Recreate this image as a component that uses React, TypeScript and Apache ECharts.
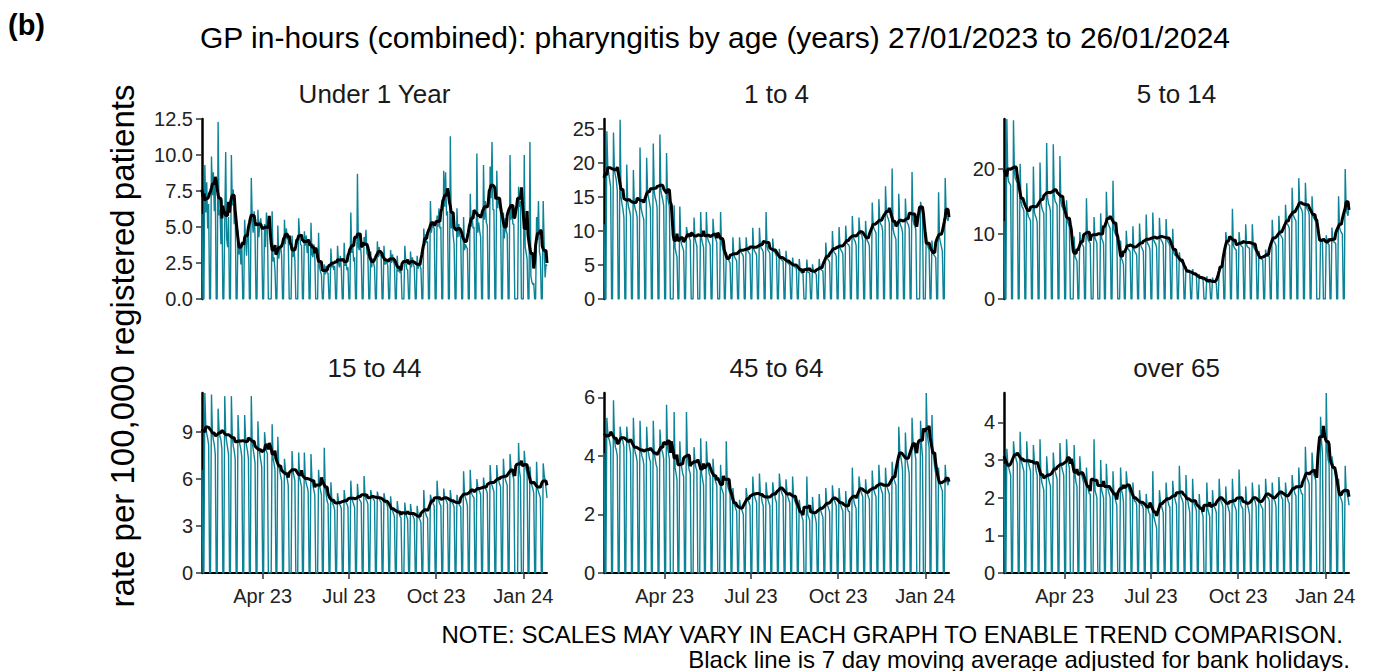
import React, { useEffect, useRef } from 'react';
import * as echarts from 'echarts';

// ---------- data ----------
const START_DATE = '2023-01-27';
const N_DAYS = 365;
const bankHolidays = ['2023-04-07', '2023-04-10', '2023-05-01', '2023-05-08', '2023-05-29', '2023-08-28', '2023-12-25', '2023-12-26', '2024-01-01'];
const quarterTickDates = ['2023-04-01', '2023-07-01', '2023-10-01', '2024-01-01'];
const monthAbbr = ['Jan', 'Feb', 'Mar', 'Apr', 'May', 'Jun', 'Jul', 'Aug', 'Sep', 'Oct', 'Nov', 'Dec'];

const panelTitles = ['Under 1 Year', '1 to 4', '5 to 14', '15 to 44', '45 to 64', 'over 65'];

// daily rates: first row Fri-Sun, then Mon..Sun per week, last row Mon..Fri
const under1 = [5.9, 0, 0,
  9.3, 6.0, 8.1, 4.9, 6.6, 0, 0,
  9.9, 7.2, 8.8, 6.1, 8.0, 0, 0,
  12.3, 5.8, 6.2, 3.8, 6.9, 0, 0,
  5.3, 10.2, 4.2, 3.6, 5.7, 0, 0,
  10.0, 6.5, 7.6, 5.2, 6.7, 0, 0,
  4.8, 3.1, 3.9, 2.4, 3.8, 0, 0,
  5.5, 4.1, 3.0, 4.9, 4.5, 0, 0,
  8.4, 5.6, 4.6, 6.1, 4.3, 0, 0,
  6.2, 4.3, 5.3, 5.6, 4.6, 0, 0,
  5.2, 3.6, 6.0, 5.2, 0, 0, 0,
  0, 6.1, 2.6, 2.9, 2.0, 0, 0,
  5.1, 2.8, 3.4, 3.7, 3.0, 0, 0,
  5.5, 3.8, 4.9, 4.2, 4.1, 0, 0,
  0, 4.4, 2.9, 3.6, 2.7, 0, 0,
  0, 5.6, 4.5, 3.8, 3.7, 0, 0,
  4.7, 3.7, 4.4, 3.2, 4.0, 0, 0,
  5.3, 3.1, 2.9, 3.8, 2.9, 0, 0,
  0, 4.6, 2.2, 1.9, 1.7, 0, 0,
  2.4, 1.7, 2.3, 1.8, 1.8, 0, 0,
  3.5, 2.2, 2.5, 2.0, 2.3, 0, 0,
  3.7, 2.5, 2.2, 3.0, 2.1, 0, 0,
  3.9, 2.3, 2.6, 2.0, 2.2, 0, 0,
  6.0, 3.2, 3.8, 2.6, 2.9, 0, 0,
  8.7, 3.6, 3.4, 3.9, 3.0, 0, 0,
  4.3, 3.7, 4.8, 3.2, 3.0, 0, 0,
  3.3, 2.2, 2.8, 2.5, 2.2, 0, 0,
  4.0, 2.9, 3.6, 3.0, 3.0, 0, 0,
  3.7, 2.4, 2.5, 2.6, 2.3, 0, 0,
  3.4, 2.5, 3.1, 2.6, 2.4, 0, 0,
  3.0, 1.9, 2.2, 1.8, 2.1, 0, 0,
  0, 3.7, 2.6, 2.1, 2.0, 0, 0,
  3.3, 2.2, 2.9, 2.4, 2.2, 0, 0,
  3.0, 2.1, 2.5, 2.3, 2.1, 0, 0,
  4.9, 3.7, 4.5, 3.9, 4.0, 0, 0,
  6.8, 4.6, 5.2, 5.0, 4.9, 0, 0,
  5.8, 5.0, 6.3, 4.9, 5.0, 0, 0,
  8.9, 6.4, 8.8, 5.8, 6.1, 0, 0,
  11.3, 4.9, 5.6, 4.4, 3.8, 0, 0,
  6.3, 4.3, 5.2, 4.4, 4.3, 0, 0,
  5.7, 3.4, 3.8, 3.6, 3.5, 0, 0,
  7.3, 5.0, 5.8, 4.9, 5.0, 0, 0,
  10.1, 4.6, 5.3, 4.7, 4.3, 0, 0,
  9.3, 5.5, 6.8, 5.3, 5.1, 0, 0,
  9.2, 7.0, 10.9, 6.2, 6.2, 0, 0,
  8.9, 6.3, 7.1, 6.6, 6.1, 0, 0,
  6.0, 4.2, 5.6, 4.7, 4.5, 0, 0,
  10.0, 5.5, 6.6, 5.2, 5.2, 0, 0,
  0, 0, 7.8, 6.4, 6.8, 0, 0,
  0, 10.0, 3.6, 3.2, 2.8, 0, 0,
  10.9, 1.6, 1.2, 1.0, 1.1, 0, 0,
  5.7, 4.1, 6.8, 3.3, 2.9, 0, 0,
  6.8, 3.8, 1.5, 2.4, 2.3];

const age1to4 = [11.0, 0, 0,
  24.7, 19.5, 18.5, 17.5, 16.5, 0, 0,
  24.5, 19.0, 18.2, 17.5, 16.0, 0, 0,
  26.4, 15.0, 14.0, 13.2, 12.0, 0, 0,
  19.8, 14.5, 13.5, 13.0, 12.2, 0, 0,
  19.0, 14.0, 13.2, 12.8, 12.0, 0, 0,
  22.3, 13.5, 12.8, 12.2, 11.7, 0, 0,
  20.8, 15.8, 14.9, 14.2, 13.3, 0, 0,
  22.9, 15.8, 14.9, 14.4, 13.5, 0, 0,
  24.2, 16.0, 15.2, 14.6, 13.7, 0, 0,
  21.5, 15.0, 14.2, 13.6, 0, 0, 0,
  0, 13.8, 7.6, 6.8, 6.2, 0, 0,
  13.6, 8.7, 8.0, 7.6, 7.1, 0, 0,
  10.6, 9.8, 9.3, 9.0, 8.6, 0, 0,
  0, 12.0, 9.0, 8.3, 7.8, 0, 0,
  0, 12.8, 8.8, 8.2, 7.6, 0, 0,
  12.8, 9.3, 8.6, 8.3, 7.9, 0, 0,
  11.8, 9.6, 9.1, 8.8, 8.3, 0, 0,
  0, 12.8, 8.2, 7.6, 7.0, 0, 0,
  6.9, 6.2, 5.9, 5.6, 5.3, 0, 0,
  9.1, 6.6, 6.1, 5.9, 5.6, 0, 0,
  9.1, 7.1, 6.8, 6.6, 6.3, 0, 0,
  9.1, 7.4, 7.0, 6.8, 6.6, 0, 0,
  10.5, 7.4, 7.0, 6.8, 6.4, 0, 0,
  10.5, 7.9, 7.4, 7.3, 6.9, 0, 0,
  12.8, 7.8, 7.2, 7.0, 6.7, 0, 0,
  8.9, 7.2, 6.9, 6.7, 6.3, 0, 0,
  7.4, 6.1, 5.8, 5.7, 5.5, 0, 0,
  7.1, 5.5, 5.3, 5.2, 4.9, 0, 0,
  6.1, 5.0, 4.8, 4.6, 4.5, 0, 0,
  5.9, 4.2, 3.9, 3.8, 3.7, 0, 0,
  0, 5.8, 4.0, 3.9, 3.8, 0, 0,
  5.1, 4.1, 3.9, 3.8, 3.6, 0, 0,
  5.9, 4.5, 4.3, 4.2, 4.1, 0, 0,
  8.3, 6.2, 5.9, 5.7, 5.4, 0, 0,
  10.0, 7.2, 6.8, 6.7, 6.3, 0, 0,
  10.6, 7.6, 7.2, 7.0, 6.6, 0, 0,
  10.8, 8.4, 8.1, 8.0, 7.7, 0, 0,
  12.2, 9.2, 8.7, 8.5, 7.9, 0, 0,
  12.0, 9.9, 9.6, 9.4, 8.6, 0, 0,
  11.5, 8.9, 8.5, 8.3, 7.8, 0, 0,
  14.2, 10.8, 10.3, 10.0, 9.7, 0, 0,
  14.7, 11.5, 11.0, 10.8, 10.0, 0, 0,
  16.6, 12.8, 12.1, 11.8, 11.2, 0, 0,
  19.2, 10.4, 9.6, 9.2, 8.8, 0, 0,
  15.5, 11.4, 10.8, 10.5, 9.8, 0, 0,
  14.8, 11.6, 11.2, 11.0, 10.4, 0, 0,
  18.7, 11.8, 11.0, 10.8, 10.2, 0, 0,
  0, 0, 14.3, 13.5, 12.8, 0, 0,
  0, 9.8, 8.2, 7.6, 7.2, 0, 0,
  8.6, 6.8, 6.5, 6.3, 6.1, 0, 0,
  15.7, 9.0, 8.3, 7.7, 7.0, 0, 0,
  17.8, 12.5, 11.8, 11.5, 12.4];

const age5to14 = [12.0, 0, 0,
  27.7, 19.0, 18.0, 17.8, 17.5, 0, 0,
  27.5, 19.5, 18.5, 18.2, 17.8, 0, 0,
  20.8, 15.0, 14.2, 14.0, 13.5, 0, 0,
  17.8, 13.2, 12.6, 12.4, 12.0, 0, 0,
  20.4, 13.5, 12.8, 12.5, 11.8, 0, 0,
  21.0, 14.8, 14.0, 13.5, 13.2, 0, 0,
  24.0, 15.6, 14.6, 14.3, 13.5, 0, 0,
  23.8, 16.0, 15.0, 14.8, 14.4, 0, 0,
  22.0, 15.2, 14.3, 14.0, 13.5, 0, 0,
  15.2, 12.0, 11.5, 11.0, 0, 0, 0,
  0, 9.6, 6.5, 6.2, 5.8, 0, 0,
  10.3, 8.8, 8.6, 8.3, 8.0, 0, 0,
  15.5, 9.6, 9.0, 8.8, 8.5, 0, 0,
  0, 12.6, 9.4, 9.0, 8.6, 0, 0,
  0, 13.2, 9.3, 9.0, 8.5, 0, 0,
  16.5, 12.0, 11.5, 11.2, 10.8, 0, 0,
  18.2, 10.8, 10.2, 9.8, 9.5, 0, 0,
  0, 9.0, 6.2, 5.9, 5.3, 0, 0,
  10.5, 8.0, 7.7, 7.5, 7.3, 0, 0,
  11.2, 7.7, 7.3, 7.1, 6.7, 0, 0,
  11.6, 8.4, 8.0, 7.7, 7.3, 0, 0,
  13.0, 8.8, 8.4, 8.2, 7.6, 0, 0,
  13.3, 9.1, 8.7, 8.5, 7.9, 0, 0,
  12.5, 9.4, 9.0, 8.8, 8.3, 0, 0,
  12.3, 9.2, 8.8, 8.6, 8.1, 0, 0,
  10.8, 7.2, 6.8, 6.7, 6.5, 0, 0,
  7.2, 5.9, 5.7, 5.7, 5.5, 0, 0,
  5.0, 4.2, 4.1, 4.1, 4.1, 0, 0,
  4.6, 3.9, 3.8, 3.6, 3.6, 0, 0,
  3.8, 3.3, 3.2, 3.1, 3.1, 0, 0,
  0, 3.5, 2.7, 2.6, 2.5, 0, 0,
  3.3, 2.7, 2.6, 2.5, 2.4, 0, 0,
  4.3, 4.6, 4.9, 5.3, 5.6, 0, 0,
  10.3, 9.0, 8.6, 8.4, 8.2, 0, 0,
  13.9, 8.3, 7.9, 7.7, 7.5, 0, 0,
  10.3, 8.6, 8.2, 8.1, 7.9, 0, 0,
  11.5, 8.3, 8.0, 7.9, 7.8, 0, 0,
  11.5, 8.1, 7.8, 7.6, 7.3, 0, 0,
  7.4, 6.3, 6.2, 6.1, 6.0, 0, 0,
  7.6, 6.7, 6.6, 6.6, 6.5, 0, 0,
  12.2, 9.2, 8.8, 8.6, 8.2, 0, 0,
  12.8, 10.1, 9.8, 9.6, 9.2, 0, 0,
  14.5, 11.8, 11.5, 11.3, 10.9, 0, 0,
  17.1, 13.0, 12.6, 12.3, 12.0, 0, 0,
  18.6, 14.4, 14.0, 13.8, 13.2, 0, 0,
  17.9, 14.2, 13.8, 13.6, 13.0, 0, 0,
  15.8, 12.8, 12.4, 12.2, 11.8, 0, 0,
  0, 0, 9.3, 9.0, 8.8, 0, 0,
  0, 9.8, 8.6, 8.5, 8.3, 0, 0,
  11.0, 9.0, 8.8, 8.7, 8.5, 0, 0,
  15.8, 11.0, 10.5, 10.2, 10.0, 0, 0,
  20.0, 14.0, 13.2, 12.8, 14.8];

const age15to44 = [6.6, 0, 0,
  11.5, 9.4, 8.9, 8.6, 8.2, 0, 0,
  11.4, 9.0, 8.5, 8.2, 7.6, 0, 0,
  10.5, 9.2, 8.7, 8.5, 7.9, 0, 0,
  11.3, 8.9, 8.4, 8.0, 7.6, 0, 0,
  11.3, 8.7, 8.1, 7.8, 7.3, 0, 0,
  10.1, 8.6, 8.2, 7.9, 7.4, 0, 0,
  10.1, 8.7, 8.1, 7.8, 7.3, 0, 0,
  11.3, 8.4, 7.9, 7.5, 7.0, 0, 0,
  9.7, 8.1, 7.6, 7.2, 6.8, 0, 0,
  9.0, 8.3, 7.8, 7.6, 0, 0, 0,
  0, 9.5, 7.3, 7.0, 6.6, 0, 0,
  8.7, 6.9, 6.5, 6.2, 5.9, 0, 0,
  7.3, 6.6, 6.2, 6.0, 5.6, 0, 0,
  0, 7.8, 6.5, 6.2, 5.9, 0, 0,
  0, 7.7, 6.1, 5.8, 5.5, 0, 0,
  7.7, 6.1, 5.7, 5.5, 5.2, 0, 0,
  7.6, 6.0, 5.6, 5.3, 5.0, 0, 0,
  0, 6.6, 5.6, 5.3, 5.0, 0, 0,
  8.0, 5.5, 5.0, 4.6, 4.4, 0, 0,
  5.8, 4.7, 4.4, 4.3, 4.0, 0, 0,
  5.1, 4.6, 4.4, 4.3, 4.1, 0, 0,
  5.3, 4.7, 4.5, 4.4, 4.2, 0, 0,
  5.9, 4.8, 4.6, 4.4, 4.2, 0, 0,
  5.7, 4.9, 4.7, 4.6, 4.5, 0, 0,
  6.2, 5.0, 4.7, 4.6, 4.4, 0, 0,
  5.3, 5.0, 4.8, 4.7, 4.6, 0, 0,
  5.2, 4.9, 4.8, 4.6, 4.5, 0, 0,
  5.1, 4.7, 4.5, 4.4, 4.2, 0, 0,
  4.9, 4.2, 4.0, 3.8, 3.6, 0, 0,
  4.6, 4.0, 3.8, 3.6, 3.5, 0, 0,
  0, 4.5, 3.8, 3.6, 3.4, 0, 0,
  4.4, 3.9, 3.7, 3.6, 3.4, 0, 0,
  4.3, 3.7, 3.5, 3.4, 3.2, 0, 0,
  5.3, 4.0, 3.8, 3.6, 3.5, 0, 0,
  5.0, 4.7, 4.6, 4.4, 4.3, 0, 0,
  5.9, 4.8, 4.6, 4.4, 4.3, 0, 0,
  5.4, 4.9, 4.7, 4.6, 4.4, 0, 0,
  5.3, 4.7, 4.5, 4.4, 4.2, 0, 0,
  5.0, 4.6, 4.4, 4.3, 4.2, 0, 0,
  6.5, 5.0, 4.8, 4.6, 4.3, 0, 0,
  6.6, 5.2, 5.0, 4.9, 4.8, 0, 0,
  6.0, 5.5, 5.3, 5.2, 5.0, 0, 0,
  6.1, 5.6, 5.4, 5.3, 5.1, 0, 0,
  6.9, 5.8, 5.6, 5.4, 5.2, 0, 0,
  6.9, 6.1, 5.9, 5.7, 5.5, 0, 0,
  7.3, 6.2, 6.0, 5.8, 5.6, 0, 0,
  7.6, 6.7, 6.4, 6.2, 6.0, 0, 0,
  0, 0, 8.3, 6.5, 6.1, 0, 0,
  0, 7.8, 7.0, 6.6, 6.3, 0, 0,
  6.8, 5.9, 5.6, 5.4, 5.1, 0, 0,
  7.1, 5.4, 5.2, 5.0, 4.8, 0, 0,
  7.0, 6.3, 5.9, 5.4, 4.8];

const age45to64 = [4.1, 0, 0,
  5.3, 4.8, 4.6, 4.5, 4.3, 0, 0,
  5.9, 4.6, 4.3, 4.2, 4.0, 0, 0,
  5.0, 4.7, 4.6, 4.5, 4.3, 0, 0,
  5.0, 4.6, 4.5, 4.3, 4.1, 0, 0,
  5.3, 4.3, 4.1, 4.0, 3.8, 0, 0,
  5.2, 4.2, 4.0, 3.9, 3.7, 0, 0,
  5.0, 4.3, 4.1, 3.9, 3.8, 0, 0,
  5.2, 4.1, 3.9, 3.7, 3.6, 0, 0,
  4.9, 4.4, 4.2, 4.1, 3.9, 0, 0,
  5.75, 4.3, 4.1, 3.9, 0, 0, 0,
  0, 5.5, 3.6, 3.4, 3.2, 0, 0,
  4.5, 3.8, 3.6, 3.4, 3.3, 0, 0,
  5.5, 4.0, 3.7, 3.5, 3.4, 0, 0,
  0, 4.3, 3.8, 3.6, 3.5, 0, 0,
  0, 4.6, 3.4, 3.2, 3.0, 0, 0,
  4.5, 3.8, 3.6, 3.4, 3.3, 0, 0,
  3.9, 3.4, 3.2, 3.1, 3.0, 0, 0,
  0, 3.7, 2.9, 2.8, 2.7, 0, 0,
  4.5, 3.1, 2.9, 2.8, 2.7, 0, 0,
  2.9, 2.5, 2.3, 2.2, 2.1, 0, 0,
  2.5, 2.3, 2.2, 2.1, 2.0, 0, 0,
  2.9, 2.6, 2.5, 2.4, 2.3, 0, 0,
  3.3, 2.7, 2.6, 2.5, 2.4, 0, 0,
  3.4, 2.7, 2.6, 2.4, 2.3, 0, 0,
  3.1, 2.7, 2.5, 2.4, 2.3, 0, 0,
  3.1, 2.8, 2.7, 2.5, 2.4, 0, 0,
  3.4, 3.0, 2.8, 2.7, 2.6, 0, 0,
  3.2, 2.8, 2.6, 2.5, 2.4, 0, 0,
  3.3, 2.6, 2.5, 2.4, 2.3, 0, 0,
  2.5, 2.2, 2.0, 1.9, 1.8, 0, 0,
  0, 3.3, 2.0, 1.9, 1.8, 0, 0,
  2.6, 2.1, 2.0, 1.9, 1.7, 0, 0,
  2.7, 2.3, 2.1, 2.0, 1.9, 0, 0,
  2.9, 2.4, 2.3, 2.2, 2.1, 0, 0,
  3.0, 2.6, 2.5, 2.4, 2.3, 0, 0,
  2.9, 2.5, 2.3, 2.2, 2.1, 0, 0,
  2.8, 2.3, 2.2, 2.1, 2.1, 0, 0,
  3.6, 2.6, 2.4, 2.3, 2.2, 0, 0,
  3.3, 3.0, 2.8, 2.7, 2.6, 0, 0,
  3.2, 2.8, 2.7, 2.6, 2.5, 0, 0,
  3.5, 2.9, 2.8, 2.7, 2.6, 0, 0,
  3.7, 3.1, 2.9, 2.8, 2.7, 0, 0,
  3.6, 3.0, 2.9, 2.8, 2.7, 0, 0,
  3.8, 3.3, 3.2, 3.1, 3.0, 0, 0,
  5.0, 4.2, 4.0, 3.8, 3.5, 0, 0,
  4.8, 4.0, 3.8, 3.6, 3.4, 0, 0,
  5.3, 4.5, 4.3, 4.1, 3.9, 0, 0,
  0, 0, 5.2, 4.4, 4.0, 0, 0,
  0, 6.15, 4.8, 4.5, 4.3, 0, 0,
  5.4, 4.2, 3.9, 3.6, 3.4, 0, 0,
  3.6, 3.1, 3.0, 2.9, 2.8, 0, 0,
  3.7, 3.2, 3.1, 3.0, 3.2];

const over65 = [2.9, 0, 0,
  3.3, 2.9, 2.8, 2.7, 2.6, 0, 0,
  3.5, 3.2, 3.1, 3.0, 2.9, 0, 0,
  3.75, 3.0, 2.9, 2.8, 2.7, 0, 0,
  3.5, 3.0, 2.9, 2.8, 2.7, 0, 0,
  3.4, 3.0, 2.9, 2.7, 2.6, 0, 0,
  3.55, 2.6, 2.4, 2.3, 2.2, 0, 0,
  3.1, 2.7, 2.5, 2.4, 2.3, 0, 0,
  3.2, 2.8, 2.7, 2.6, 2.5, 0, 0,
  3.45, 2.9, 2.8, 2.7, 2.6, 0, 0,
  3.55, 3.0, 2.9, 2.8, 0, 0, 0,
  0, 3.4, 2.6, 2.4, 2.3, 0, 0,
  3.1, 2.7, 2.6, 2.5, 2.4, 0, 0,
  2.8, 2.3, 2.2, 2.1, 2.1, 0, 0,
  0, 3.55, 2.2, 2.1, 2.0, 0, 0,
  0, 3.0, 2.2, 2.1, 2.0, 0, 0,
  2.9, 2.3, 2.2, 2.1, 2.0, 0, 0,
  2.7, 2.1, 2.0, 1.9, 1.8, 0, 0,
  0, 2.8, 2.2, 2.1, 1.9, 0, 0,
  2.7, 2.4, 2.3, 2.2, 2.1, 0, 0,
  2.4, 2.0, 1.9, 1.9, 1.8, 0, 0,
  2.2, 1.9, 1.8, 1.8, 1.7, 0, 0,
  2.1, 1.8, 1.7, 1.6, 1.55, 0, 0,
  2.7, 1.5, 1.4, 1.3, 1.2, 0, 0,
  2.2, 1.9, 1.8, 1.7, 1.6, 0, 0,
  2.4, 2.0, 1.9, 1.8, 1.75, 0, 0,
  2.45, 2.1, 2.0, 1.9, 1.8, 0, 0,
  2.85, 2.1, 2.0, 1.95, 1.85, 0, 0,
  2.6, 2.0, 1.9, 1.75, 1.6, 0, 0,
  2.5, 1.9, 1.8, 1.75, 1.65, 0, 0,
  2.1, 1.7, 1.7, 1.6, 1.5, 0, 0,
  0, 2.4, 1.7, 1.6, 1.5, 0, 0,
  2.2, 1.8, 1.75, 1.7, 1.6, 0, 0,
  2.5, 2.0, 1.9, 1.85, 1.75, 0, 0,
  2.3, 1.85, 1.8, 1.7, 1.6, 0, 0,
  2.5, 1.9, 1.8, 1.75, 1.65, 0, 0,
  2.75, 2.0, 1.8, 1.75, 1.7, 0, 0,
  2.3, 1.9, 1.8, 1.7, 1.55, 0, 0,
  2.4, 2.0, 1.95, 1.9, 1.75, 0, 0,
  2.35, 1.9, 1.8, 1.75, 1.7, 0, 0,
  2.5, 2.1, 2.0, 2.0, 1.9, 0, 0,
  2.4, 2.0, 1.95, 1.9, 1.75, 0, 0,
  2.55, 2.15, 2.1, 2.0, 1.95, 0, 0,
  2.4, 2.1, 2.0, 1.9, 1.85, 0, 0,
  2.6, 2.3, 2.2, 2.1, 2.05, 0, 0,
  2.8, 2.3, 2.2, 2.1, 2.1, 0, 0,
  3.35, 2.6, 2.5, 2.45, 2.35, 0, 0,
  3.2, 2.8, 2.6, 2.55, 2.45, 0, 0,
  0, 0, 4.15, 3.5, 3.2, 0, 0,
  0, 4.78, 3.3, 3.0, 2.9, 0, 0,
  3.1, 2.9, 2.8, 2.7, 2.5, 0, 0,
  2.5, 2.1, 2.0, 1.95, 1.85, 0, 0,
  2.85, 2.2, 2.1, 2.0, 1.8];

const tickValues = [
  [0, 2.5, 5, 7.5, 10, 12.5],
  [0, 5, 10, 15, 20, 25],
  [0, 10, 20],
  [0, 3, 6, 9],
  [0, 2, 4, 6],
  [0, 1, 2, 3, 4],
];
const axisMax = [12.5, 26.5, 27.7, 11.5, 6.15, 4.78];
const tickDecimals = [1, 0, 0, 0, 0, 0];
const panelValues = [under1, age1to4, age5to14, age15to44, age45to64, over65];

// ---------- helpers ----------
function buildDates(start: string, n: number): string[] {
  const out: string[] = [];
  const t0 = Date.parse(start + 'T00:00:00Z');
  for (let i = 0; i < n; i++) {
    out.push(new Date(t0 + i * 86400000).toISOString().slice(0, 10));
  }
  return out;
}
const dates = buildDates(START_DATE, N_DAYS);

// 7-day centred moving average over working days (weekends and bank holidays excluded)
function movingAverage(vals: number[]): (number | null)[] {
  return vals.map((_, i) => {
    let s = 0;
    let c = 0;
    for (let j = Math.max(0, i - 3); j <= Math.min(vals.length - 1, i + 3); j++) {
      const dow = new Date(dates[j] + 'T00:00:00Z').getUTCDay();
      if (dow === 0 || dow === 6 || bankHolidays.includes(dates[j])) continue;
      s += vals[j];
      c++;
    }
    return c ? Math.round((s / c) * 1000) / 1000 : null;
  });
}

const FONT = "'Liberation Sans', Arial, Helvetica, sans-serif";
const TEAL = '#0d8397';
const COL_LEFT = [202, 604, 1004];
const ROW_TOP = [119, 393];
const GRID_W = 345;
const GRID_H = 180;

const isQuarterTick = (_i: number, v: string) => quarterTickDates.includes(v);
const fmtDate = (v: string) => monthAbbr[parseInt(v.slice(5, 7), 10) - 1] + ' ' + v.slice(2, 4);

export default function App() {
  const ref = useRef<HTMLDivElement>(null);
  useEffect(() => {
    if (!ref.current) return;
    const chart = echarts.init(ref.current, undefined, { renderer: 'svg' });
    const grids: any[] = [];
    const xAxes: any[] = [];
    const yAxes: any[] = [];
    const series: any[] = [];
    const graphics: any[] = [];
    panelValues.forEach((vals, i) => {
      const col = i % 3;
      const row = Math.floor(i / 3);
      const bottom = row === 1;
      grids.push({ left: COL_LEFT[col], top: ROW_TOP[row], width: GRID_W, height: GRID_H });
      xAxes.push({
        type: 'category',
        gridIndex: i,
        data: dates,
        boundaryGap: false,
        axisLine: { show: bottom, onZero: false, lineStyle: { color: '#000', width: 2 } },
        axisTick: { show: bottom, interval: isQuarterTick, length: 6, lineStyle: { color: '#333', width: 1.5 } },
        axisLabel: {
          show: bottom,
          interval: isQuarterTick,
          formatter: fmtDate,
          fontSize: 20,
          color: '#222',
          fontFamily: FONT,
          margin: 13,
        },
        splitLine: { show: false },
      });
      yAxes.push({
        type: 'value',
        gridIndex: i,
        min: 0,
        max: axisMax[i],
        axisLine: { show: true, lineStyle: { color: '#000', width: 2.5 } },
        axisTick: { show: true, length: 6, customValues: tickValues[i], lineStyle: { color: '#333', width: 1.5 } },
        axisLabel: {
          customValues: tickValues[i],
          formatter: (v: number) => v.toFixed(tickDecimals[i]),
          fontSize: 20,
          color: '#222',
          fontFamily: FONT,
          margin: 9,
        },
        splitLine: { show: false },
      });
      series.push({
        type: 'line',
        xAxisIndex: i,
        yAxisIndex: i,
        data: vals,
        symbol: 'none',
        showSymbol: false,
        silent: true,
        lineStyle: { color: TEAL, width: 1.4 },
        z: 2,
      });
      series.push({
        type: 'line',
        xAxisIndex: i,
        yAxisIndex: i,
        data: movingAverage(vals),
        symbol: 'none',
        showSymbol: false,
        silent: true,
        lineStyle: { color: '#000', width: 3 },
        z: 3,
      });
      graphics.push({
        type: 'text',
        x: COL_LEFT[col] + GRID_W / 2,
        y: ROW_TOP[row] - 25,
        style: { text: panelTitles[i], font: `26px ${FONT}`, fill: '#1a1a1a', textAlign: 'center', textVerticalAlign: 'middle' },
      });
    });
    graphics.push(
      { type: 'text', x: 8, y: 25, style: { text: '(b)', font: `bold 29px ${FONT}`, fill: '#000', textAlign: 'left', textVerticalAlign: 'middle' } },
      { type: 'text', x: 715, y: 37, style: { text: 'GP in-hours (combined): pharyngitis by age (years) 27/01/2023 to 26/01/2024', font: `30px ${FONT}`, fill: '#000', textAlign: 'center', textVerticalAlign: 'middle' } },
      { type: 'text', x: 122, y: 346, rotation: Math.PI / 2, style: { text: 'rate per 100,000 registered patients', font: `33px ${FONT}`, fill: '#000', textAlign: 'center', textVerticalAlign: 'middle' } },
      { type: 'text', x: 1343, y: 634, style: { text: 'NOTE: SCALES MAY VARY IN EACH GRAPH TO ENABLE TREND COMPARISON.', font: `24px ${FONT}`, fill: '#000', textAlign: 'right', textVerticalAlign: 'middle' } },
      { type: 'text', x: 1350, y: 659, style: { text: 'Black line is 7 day moving average adjusted for bank holidays.', font: `24px ${FONT}`, fill: '#000', textAlign: 'right', textVerticalAlign: 'middle' } },
    );
    chart.setOption({
      animation: false,
      backgroundColor: '#fff',
      grid: grids,
      xAxis: xAxes,
      yAxis: yAxes,
      series,
      graphic: graphics,
    });
    return () => chart.dispose();
  }, []);
  return <div ref={ref} style={{ position: 'absolute', left: 0, top: 0, width: 1375, height: 671 }} />;
}
